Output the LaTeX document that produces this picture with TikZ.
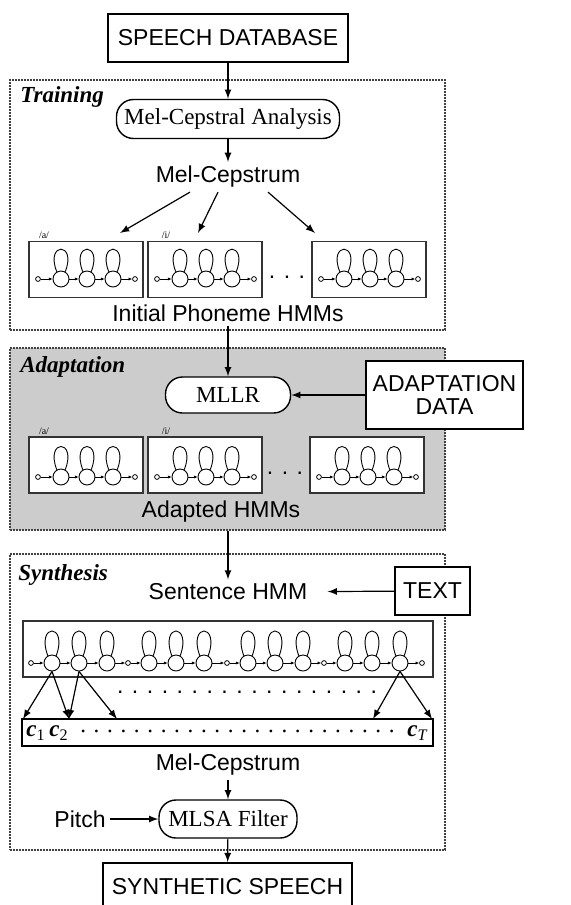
\documentclass[tikz,border=0pt]{standalone}
\usepackage{fontspec}
\setmainfont{Liberation Serif}
\setsansfont{Liberation Sans}
\usetikzlibrary{arrows.meta}

\begin{document}
\begin{tikzpicture}[x=0.5pt,y=-0.5pt,
  font=\fontsize{11.5}{12.5}\selectfont,
  region/.style={draw=black!75,line width=0.8pt,dash pattern=on 0.8pt off 0.7pt,minimum width=217.5pt,inner sep=0pt},
  block/.style={draw,line width=0.9pt,fill=white,font=\fontsize{11.5}{11.5}\selectfont\sffamily},
  proc/.style={draw,rounded corners=8.5pt,line width=0.7pt,fill=white,inner xsep=2pt},
  lbl/.style={font=\fontsize{11.5}{12.5}\selectfont\sffamily,inner sep=2pt},
  stage/.style={font=\fontsize{11.5}{12.5}\selectfont\bfseries\itshape,anchor=west,inner sep=0pt},
  hmm/.style={draw=black!80,line width=0.9pt,fill=white,minimum width=57pt,minimum height=28pt,inner sep=0pt},
  st/.style={draw,circle,line width=0.45pt,minimum size=8pt,inner sep=0pt},
  term/.style={draw,circle,line width=0.4pt,minimum size=2.4pt,inner sep=0pt},
  tr/.style={line width=0.4pt,-{Latex[length=1.8pt,width=1.6pt]}},
  lp/.style={line width=0.45pt},
  flow/.style={line width=0.6pt,->,>=latex},
  ph/.style={font=\fontsize{5}{5}\selectfont,inner sep=0pt},
]
\useasboundingbox (0,0) rectangle (571,905);
\clip (0,0) rectangle (571,905);

% stage frames
\node[region,minimum height=125pt] (train) at (227.5,205) {};
\node[region,fill=black!20,minimum height=91pt] (adapt) at (227.5,439) {};
\node[region,minimum height=148pt] (synth) at (227.5,702) {};

% training
\node[block,minimum width=120pt,minimum height=24pt] (db) at (228,38) {SPEECH DATABASE};
\node[stage] (trn) at (20,97) {Training};
\node[proc,minimum width=111.5pt,minimum height=19.5pt] (mca) at (228,119) {Mel-Cepstral Analysis};
\node[lbl] (mc1) at (228,177) {Mel-Cepstrum};
\foreach \k/\x in {1/29,2/148,3/312} {
  \node[hmm] (t\k) at (\x+57,269.5) {};
  \node[term] (t\k q0) at (\x+9,279) {};
  \node[st] (t\k q1) at (\x+32,279) {};
  \node[st] (t\k q2) at (\x+58,279) {};
  \node[st] (t\k q3) at (\x+84,279) {};
  \node[term] (t\k q4) at (\x+106,279) {};
  \foreach \s/\t in {0/1,1/2,2/3,3/4} \draw[tr] (t\k q\s) -- (t\k q\t);
  \foreach \s in {1,2,3} \draw[lp] (t\k q\s.120) .. controls +(-12,-30) and +(12,-30) .. (t\k q\s.60);
}
\node[ph] (ta) at (44,235) {/a/};
\node[ph] (ti) at (166,235) {/i/};
\node[lbl] (tdots) at (287,277) {. . .};
\node[lbl] (iph) at (228,313) {Initial Phoneme HMMs};
\coordinate (h1) at (120,233);
\coordinate (h2) at (198,233);
\coordinate (h3) at (315,233);
\draw[flow] ([xshift=-19pt]mc1.south) -- (h1);
\draw[flow] ([xshift=-5pt]mc1.south) -- (h2);
\draw[flow] ([xshift=20pt]mc1.south) -- (h3);
\draw[flow] (db) -- (mca);
\draw[flow] (mca) -- (mc1);

% adaptation
\node[stage] (adp) at (20,367) {Adaptation};
\node[proc,minimum width=62.5pt,minimum height=18pt] (mllr) at (228,395) {MLLR};
\node[block,align=center,minimum width=78.5pt,minimum height=34pt] (adata) at (444.5,395) {ADAPTATION\\DATA};
\foreach \k/\x in {1/29,2/148,3/310} {
  \node[hmm] (a\k) at (\x+57,465) {};
  \node[term] (a\k q0) at (\x+9,477) {};
  \node[st] (a\k q1) at (\x+32,477) {};
  \node[st] (a\k q2) at (\x+58,477) {};
  \node[st] (a\k q3) at (\x+84,477) {};
  \node[term] (a\k q4) at (\x+106,477) {};
  \foreach \s/\t in {0/1,1/2,2/3,3/4} \draw[tr] (a\k q\s) -- (a\k q\t);
  \foreach \s in {1,2,3} \draw[lp] (a\k q\s.120) .. controls +(-12,-31) and +(12,-31) .. (a\k q\s.60);
}
\node[ph] (aa) at (44,431) {/a/};
\node[ph] (ai) at (166,431) {/i/};
\node[lbl] (adots) at (285,473) {. . .};
\node[lbl] (ahmm) at (221,512) {Adapted HMMs};
\draw[flow] (iph) -- (mllr);
\draw[flow] (adata) -- (mllr);

% synthesis
\node[stage] (syn) at (18,575) {Synthesis};
\node[lbl,inner xsep=10pt] (shmm) at (228,592) {Sentence HMM};
\node[block,minimum width=37.5pt,minimum height=24pt] (txt) at (432.5,591) {TEXT};
\node[hmm,minimum width=205pt] (long) at (228,649) {};
\foreach \g/\x in {0/31,1/128,2/227,3/324} {
  \node[term] (l\g q0) at (\x,663) {};
  \node[st] (l\g q1) at (\x+21,663) {};
  \node[st] (l\g q2) at (\x+48,663) {};
  \node[st] (l\g q3) at (\x+76,663) {};
  \foreach \s/\t in {0/1,1/2,2/3} \draw[tr] (l\g q\s) -- (l\g q\t);
  \foreach \s in {1,2,3} \draw[lp] (l\g q\s.120) .. controls +(-12,-33) and +(12,-33) .. (l\g q\s.60);
}
\node[term] (l4q0) at (422,663) {};
\foreach \g/\h in {0/1,1/2,2/3,3/4} \draw[tr] (l\g q3) -- (l\h q0);
\node[lbl] (rdots) at (247,692) {. . . . . . . . . . . . . . . . . .};
\node[draw,line width=0.9pt,minimum width=205.5pt,minimum height=13.5pt,inner sep=0pt] (cbox) at (227.5,732.5) {};
\node[inner sep=0pt] (c1) at (36,733) {\textbf{\textit{c}}\textsubscript{1}};
\node[inner sep=0pt] (c2) at (59,733) {\textbf{\textit{c}}\textsubscript{2}};
\node[inner sep=0pt] (cdots) at (237.5,731) {. . . . . . . . . . . . . . . . . . . . . . . .};
\node[inner sep=0pt] (cT) at (418,733) {\textbf{\textit{c}}\textsubscript{\textit{T}}};
\coordinate (e1) at (23,719);
\coordinate (e2) at (69,719);
\coordinate (e3) at (117,719);
\coordinate (e4) at (373,719);
\coordinate (e5) at (432,719);
\draw[flow] (l0q1.south) -- (e1);
\draw[flow] (l0q1.south) -- (e2);
\draw[flow] (l0q2.south) -- (e2);
\draw[flow] (l0q2.south) -- (e3);
\draw[flow] (l3q3.south) -- (e4);
\draw[flow] (l3q3.south) -- (e5);
\node[lbl] (mc2) at (228,765) {Mel-Cepstrum};
\node[proc,minimum width=69pt,minimum height=19pt] (mlsa) at (228,819) {MLSA Filter};
\node[lbl] (pitch) at (80,819) {Pitch};
\node[block,minimum width=124.5pt,minimum height=24pt] (synsp) at (227.5,887) {SYNTHETIC SPEECH};
\draw[flow] (adapt.south -| shmm.north) -- (shmm);
\draw[flow] (txt) -- (shmm);
\draw[flow] (mc2) -- (mlsa);
\draw[flow] (pitch) -- (mlsa);
\draw[flow] (mlsa) -- (synsp);
\end{tikzpicture}
\end{document}
